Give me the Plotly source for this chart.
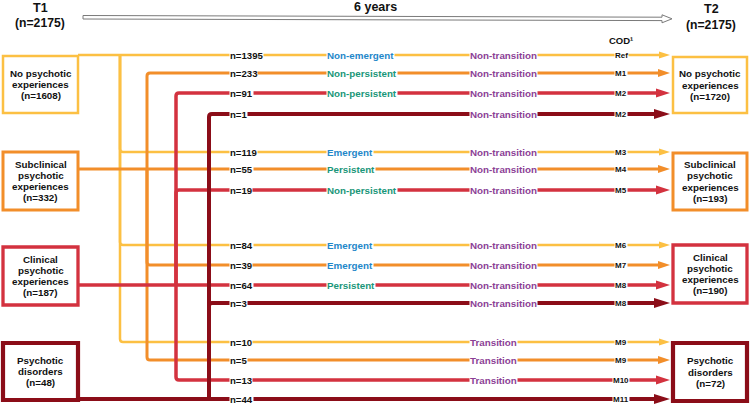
import plotly.graph_objects as go

# ---------------- data ----------------
state_lines_t1 = [["No psychotic", "experiences"],
                  ["Subclinical", "psychotic", "experiences"],
                  ["Clinical", "psychotic", "experiences"],
                  ["Psychotic", "disorders"]]
state_lines_t2 = state_lines_t1
t1_n = [1608, 332, 187, 48]
t2_n = [1720, 193, 190, 72]
total_n = 2175
period = "6 years"

flow_from = [0, 1, 2, 3, 0, 1, 2, 0, 1, 2, 3, 0, 1, 2, 3]
flow_to = [0, 0, 0, 0, 1, 1, 1, 2, 2, 2, 2, 3, 3, 3, 3]
flow_n = [1395, 233, 91, 1, 119, 55, 19, 84, 39, 64, 3, 10, 5, 13, 44]
flow_course = ["Non-emergent", "Non-persistent", "Non-persistent", "",
               "Emergent", "Persistent", "Non-persistent",
               "Emergent", "Emergent", "Persistent", "",
               "", "", "", ""]
flow_transition = ["Non-transition"] * 11 + ["Transition"] * 3 + [""]
flow_cod = ["Ref", "M1", "M2", "M2", "M3", "M4", "M5", "M6", "M7", "M8", "M8",
            "M9", "M9", "M10", "M11"]

# ---------------- layout / style ----------------
W, H = 751, 406
row_y = [55, 73, 93, 114, 152, 169, 190, 245, 265, 285, 303, 342, 360, 380, 399]
left_box_y = [(56, 113), (152, 210), (247, 305), (343, 400)]
right_box_y = [(57, 113), (153, 210), (245, 303), (343, 401)]
left_box_x = (3, 78)
right_box_x = (673, 747)
vert_x = [120, 147, 176, 209]
state_color = ["#FCC043", "#F28E2A", "#D3323F", "#8B0D18"]
line_w = [2.5, 3, 3.5, 4]
box_w = [2.5, 3, 3.3, 4.2]
head_len = [11, 12, 14, 16]
head_h = [7, 8, 9, 10]
tip_x = 670
course_color = {"Non-emergent": "#1F87C9", "Emergent": "#1F87C9",
                "Non-persistent": "#1A9679", "Persistent": "#1A9679"}
trans_color = "#8C3F96"
FONT = "Liberation Sans"
TXT = "#111111"

shapes = []
annotations = []


def ann(x, y, text, size, color=TXT, xanchor="center", bg=None):
    d = dict(x=x, y=y, xref="x", yref="y", text=text, showarrow=False,
             xanchor=xanchor, yanchor="middle",
             font=dict(family=FONT, size=size, color=color), borderpad=0)
    if bg:
        d["bgcolor"] = bg
    annotations.append(d)


# flow lines
r = 3
for g in range(4):
    rows = [i for i in range(len(flow_n)) if flow_from[i] == g]
    exit_i = [i for i in rows if flow_to[i] == g][0]
    y_exit = row_y[exit_i]
    xv = vert_x[g]
    col = state_color[g]
    base = tip_x - head_len[g] + 1
    shapes.append(dict(type="path", xref="x", yref="y",
                       path=f"M {left_box_x[1]},{y_exit} L {base},{y_exit}",
                       line=dict(color=col, width=line_w[g])))
    for i in rows:
        if i == exit_i:
            continue
        y = row_y[i]
        s = 1 if y > y_exit else -1
        p = (f"M {xv},{y_exit} L {xv},{y - s * r} Q {xv},{y} {xv + r},{y} "
             f"L {base},{y}")
        shapes.append(dict(type="path", xref="x", yref="y", path=p,
                           line=dict(color=col, width=line_w[g])))

# arrowheads
for i in range(len(flow_n)):
    g = flow_from[i]
    y = row_y[i]
    b = tip_x - head_len[g]
    hh = head_h[g] / 2
    shapes.append(dict(type="path", xref="x", yref="y",
                       path=f"M {b},{y - hh} L {tip_x},{y} L {b},{y + hh} Z",
                       fillcolor=state_color[g], line=dict(width=0)))

# boxes
for g in range(4):
    for (bx, by, n, lines) in [(left_box_x, left_box_y[g], t1_n[g], state_lines_t1[g]),
                               (right_box_x, right_box_y[g], t2_n[g], state_lines_t2[g])]:
        shapes.append(dict(type="rect", xref="x", yref="y",
                           x0=bx[0], x1=bx[1], y0=by[0], y1=by[1],
                           fillcolor="white",
                           line=dict(color=state_color[g], width=box_w[g])))
        txt = lines + [f"(n={n})"]
        cy = (by[0] + by[1]) / 2
        cx = (bx[0] + bx[1]) / 2
        step = 11.3
        for k, t in enumerate(txt):
            yy = cy + (k - (len(txt) - 1) / 2) * step
            ann(cx, yy, f"<b>{t}</b>", 9.8)

# flow labels
for i in range(len(flow_n)):
    y = row_y[i]
    ann(229, y, f"<b>n={flow_n[i]}</b>", 9.6, xanchor="left", bg="white")
    if flow_course[i]:
        ann(326, y, f"<b>{flow_course[i]}</b>", 9.8,
            color=course_color[flow_course[i]], xanchor="left", bg="white")
    if flow_transition[i]:
        ann(469, y, f"<b>{flow_transition[i]}</b>", 9.8, color=trans_color,
            xanchor="left", bg="white")
    ann(621, y, f"<b>{flow_cod[i]}</b>", 8, bg="white")

ann(621, 40, "<b>COD¹</b>", 9.5)

# headers
ann(40, 8, "<b>T1</b>", 12.5)
ann(40, 23, f"<b>(n={total_n})</b>", 12.2)
ann(711, 8.5, "<b>T2</b>", 12.5)
ann(711, 24.5, f"<b>(n={total_n})</b>", 12.2)
ann(375, 7, f"<b>{period}</b>", 12.5)

# hollow timeline arrow
shapes.append(dict(type="path", xref="x", yref="y",
                   path="M 83,15.5 L 662,17.2 L 662,14.8 L 672,18.8 L 662,22.8 "
                        "L 662,20.6 L 83,19 Z",
                   fillcolor="white", line=dict(color="#7a7a7a", width=1)))

fig = go.Figure()
fig.add_trace(go.Scatter(x=[0, W], y=[0, H], mode="markers",
                         marker=dict(opacity=0), hoverinfo="skip",
                         showlegend=False))
fig.update_layout(
    width=W, height=H, margin=dict(l=0, r=0, t=0, b=0),
    paper_bgcolor="white", plot_bgcolor="white",
    xaxis=dict(range=[0, W], visible=False, fixedrange=True),
    yaxis=dict(range=[H, 0], visible=False, fixedrange=True),
    shapes=shapes, annotations=annotations, showlegend=False,
)
fig.write_html("out.html", config={"displayModeBar": False},
               post_script="document.body.style.margin='0';"
                           "document.body.style.overflow='hidden';")
